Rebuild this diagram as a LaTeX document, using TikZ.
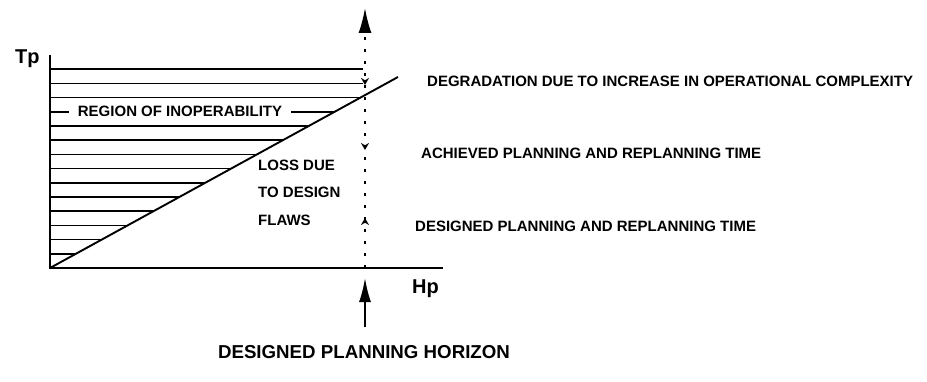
\documentclass[tikz,border=0pt]{standalone}
\usepackage{fontspec}
\setmainfont{Liberation Sans}
\usetikzlibrary{arrows.meta,decorations.markings}

\begin{document}
\begin{tikzpicture}[x=1pt, y=1pt, >=Stealth,
  axe/.style={line width=1.9pt},
  hachure/.style={line width=1.5pt},
  pointille/.style={line width=1.7pt, dash pattern=on 3pt off 9pt},
  etiquette/.style={font=\fontsize{15}{18}\selectfont\bfseries, inner sep=0pt},
  grand/.style={font=\fontsize{20}{24}\selectfont\bfseries, inner sep=0pt}]

\useasboundingbox (0,0) rectangle (927,381);

% Les points des axes
\coordinate (O) at (50,113);
\coordinate (Ty) at (50,326);
\coordinate (Hx) at (443,113);
\coordinate (D) at (398,304);

% Les points de l'horizon
\coordinate (Hb) at (365,113);
\coordinate (Hh) at (365,373);
\coordinate (Fb) at (365,54);
\coordinate (Fh) at (365,103);

% Les hachures (region d'inoperabilite)
\begin{scope}
\clip (O) -- (D) -- (398,330) -- (50,330) -- cycle;
\foreach \k in {1,...,14}
\draw[hachure] (50,113+14.2*\k) -- (363,113+14.2*\k);
\end{scope}

% Les axes et la droite
\draw[axe] (Ty) -- (O) -- (Hx);
\draw[axe] (O) -- (D);

% L'horizon en pointille
\draw[pointille, -{Latex[length=25pt,width=13pt]}, postaction={decorate},
  decoration={markings,
    mark=at position 183pt with {\arrowreversed{Stealth[length=7pt,width=8pt]}},
    mark=at position 118pt with {\arrowreversed{Stealth[length=7pt,width=8pt]}},
    mark=at position 50pt with {\arrow{Stealth[length=7pt,width=8pt]}}}]
  (Hb) -- (Hh);

% La fleche de l'horizon concu
\draw[axe, -{Latex[length=24pt,width=12pt]}] (Fb) -- (Fh);

% Les etiquettes
\node[grand, anchor=base west] (tp) at (15,317) {Tp};
\node[grand, anchor=base west] (hp) at (412,88) {Hp};
\node[etiquette, fill=white, inner xsep=9pt, inner ysep=2pt] (region) at (180,269.2) {REGION OF INOPERABILITY};
\node[etiquette, align=left, anchor=north west, font=\fontsize{15}{27.5}\selectfont\bfseries] (perte) at (258,221.5) {LOSS DUE\\TO DESIGN\\FLAWS};
\node[etiquette, anchor=west] (degr) at (427,300) {DEGRADATION DUE TO INCREASE IN OPERATIONAL COMPLEXITY};
\node[etiquette, anchor=west] (atteint) at (421,228) {ACHIEVED PLANNING AND REPLANNING TIME};
\node[etiquette, anchor=west] (concu) at (415,155) {DESIGNED PLANNING AND REPLANNING TIME};
\node[font=\fontsize{18.7}{22}\selectfont\bfseries, inner sep=0pt] (horizon) at (364,29) {DESIGNED PLANNING HORIZON};

\end{tikzpicture}
\end{document}
